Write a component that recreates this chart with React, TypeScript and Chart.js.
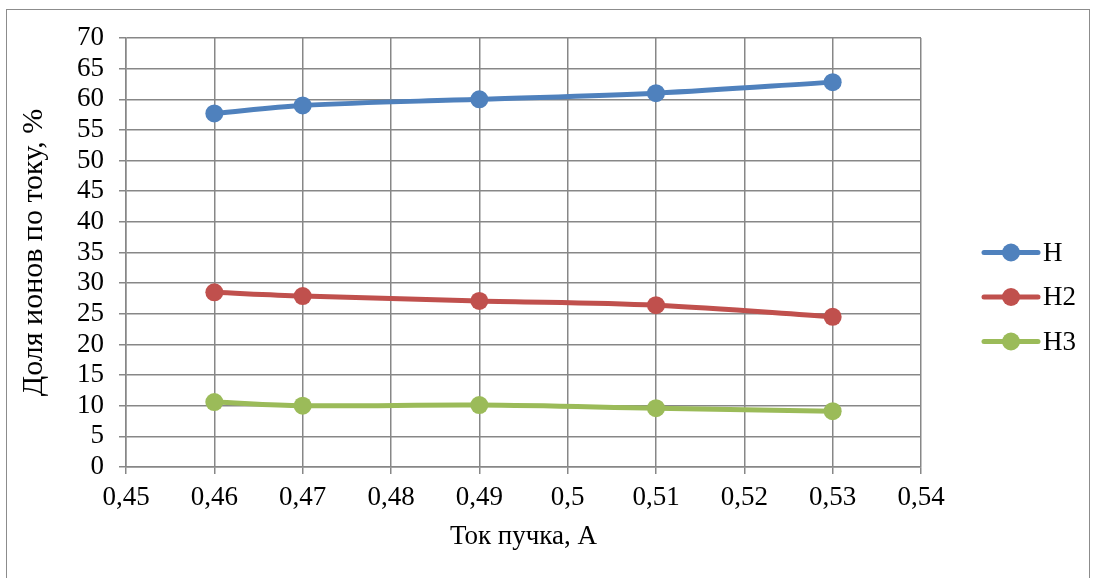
import React, { useEffect, useRef } from 'react';
import { Chart, registerables } from 'chart.js';

Chart.register(...registerables);

const xValues = [0.46, 0.47, 0.49, 0.51, 0.53];
const seriesH = [57.7, 59.0, 60.0, 61.0, 62.8];
const seriesH2 = [28.5, 27.9, 27.1, 26.4, 24.5];
const seriesH3 = [10.6, 10.0, 10.1, 9.6, 9.1];
const seriesNames = ['H', 'H2', 'H3'];
const seriesColors = ['#4F81BD', '#C0504D', '#9BBB59'];
const xTickValues = [0.45, 0.46, 0.47, 0.48, 0.49, 0.5, 0.51, 0.52, 0.53, 0.54];
const xTickLabels = ['0,45', '0,46', '0,47', '0,48', '0,49', '0,5', '0,51', '0,52', '0,53', '0,54'];
const xTitle = 'Ток пучка, А';
const yTitle = 'Доля ионов по току, %';

const FONT = '"Liberation Serif", "Times New Roman", serif';
const FS = 27;
const GRID = '#878787';

const sideLegend = {
  id: 'sideLegend',
  afterDraw(chart: any) {
    const ctx = chart.ctx;
    const area = chart.chartArea;
    const x0 = area.right + 63;
    const midY = chart.height / 2 + 8;
    const gap = 44.5;
    ctx.save();
    chart.data.datasets.forEach((ds: any, i: number) => {
      const y = midY + (i - 1) * gap;
      ctx.strokeStyle = ds.borderColor;
      ctx.lineWidth = 5;
      ctx.lineCap = 'round';
      ctx.beginPath();
      ctx.moveTo(x0, y);
      ctx.lineTo(x0 + 54, y);
      ctx.stroke();
      ctx.fillStyle = ds.backgroundColor;
      ctx.beginPath();
      ctx.arc(x0 + 27, y, 9, 0, Math.PI * 2);
      ctx.fill();
      ctx.fillStyle = '#000';
      ctx.font = `${FS}px ${FONT}`;
      ctx.textBaseline = 'middle';
      ctx.textAlign = 'left';
      ctx.fillText(ds.label, x0 + 59, y + 1);
    });
    ctx.restore();
  },
};

export default function App() {
  const ref = useRef<HTMLCanvasElement>(null);
  useEffect(() => {
    if (!ref.current) return;
    const series = [seriesH, seriesH2, seriesH3];
    const chart = new Chart(ref.current, {
      type: 'line',
      data: {
        datasets: series.map((vals, i) => ({
          label: seriesNames[i],
          data: vals.map((v, j) => ({ x: xValues[j], y: v })),
          borderColor: seriesColors[i],
          backgroundColor: seriesColors[i],
          borderWidth: 5,
          pointRadius: 9,
          pointHoverRadius: 9,
          pointBorderWidth: 0,
          tension: 0.35,
          fill: false,
        })),
      },
      options: {
        responsive: false,
        animation: false,
        events: [],
        layout: { padding: { top: 38, right: 176, left: 0, bottom: 0 } },
        plugins: { legend: { display: false }, tooltip: { enabled: false } },
        scales: {
          x: {
            type: 'linear',
            min: 0.45,
            max: 0.54,
            afterBuildTicks: (s: any) => {
              s.ticks = xTickValues.map((v) => ({ value: v }));
            },
            afterFit: (s: any) => {
              s.height = 111;
            },
            ticks: {
              callback: (_v: any, i: number) => xTickLabels[i],
              color: '#000',
              font: { family: FONT, size: FS },
              padding: 8,
              maxRotation: 0,
              autoSkip: false,
            },
            grid: { color: GRID, lineWidth: 1.5, tickLength: 7, tickColor: GRID },
            border: { color: GRID, width: 1.5 },
            title: {
              display: true,
              text: xTitle,
              color: '#000',
              font: { family: FONT, size: FS },
              padding: { top: 0, bottom: 25 },
            },
          },
          y: {
            min: 0,
            max: 70,
            ticks: {
              stepSize: 5,
              color: '#000',
              font: { family: FONT, size: FS, lineHeight: 1 },
              padding: 15,
              autoSkip: false,
              maxTicksLimit: 30,
            },
            afterFit: (s: any) => {
              s.width = 126;
            },
            grid: { color: GRID, lineWidth: 1.5, tickLength: 7, tickColor: GRID },
            border: { color: GRID, width: 1.5 },
            title: {
              display: true,
              text: yTitle,
              color: '#000',
              font: { family: FONT, size: 30 },
              padding: { top: 16, bottom: 0 },
            },
          },
        },
      },
      plugins: [sideLegend],
    });
    return () => chart.destroy();
  }, []);
  return (
    <div style={{ position: 'fixed', left: 0, top: 0, width: 1097, height: 578, background: '#fff' }}>
      <div
        style={{
          position: 'absolute',
          left: 6,
          top: 9,
          width: 1084,
          height: 580,
          border: '1px solid #8c8c8c',
          boxSizing: 'border-box',
        }}
      />
      <canvas
        ref={ref}
        width={1097}
        height={578}
        style={{ position: 'absolute', left: 0, top: 0, width: 1097, height: 578 }}
      />
    </div>
  );
}
